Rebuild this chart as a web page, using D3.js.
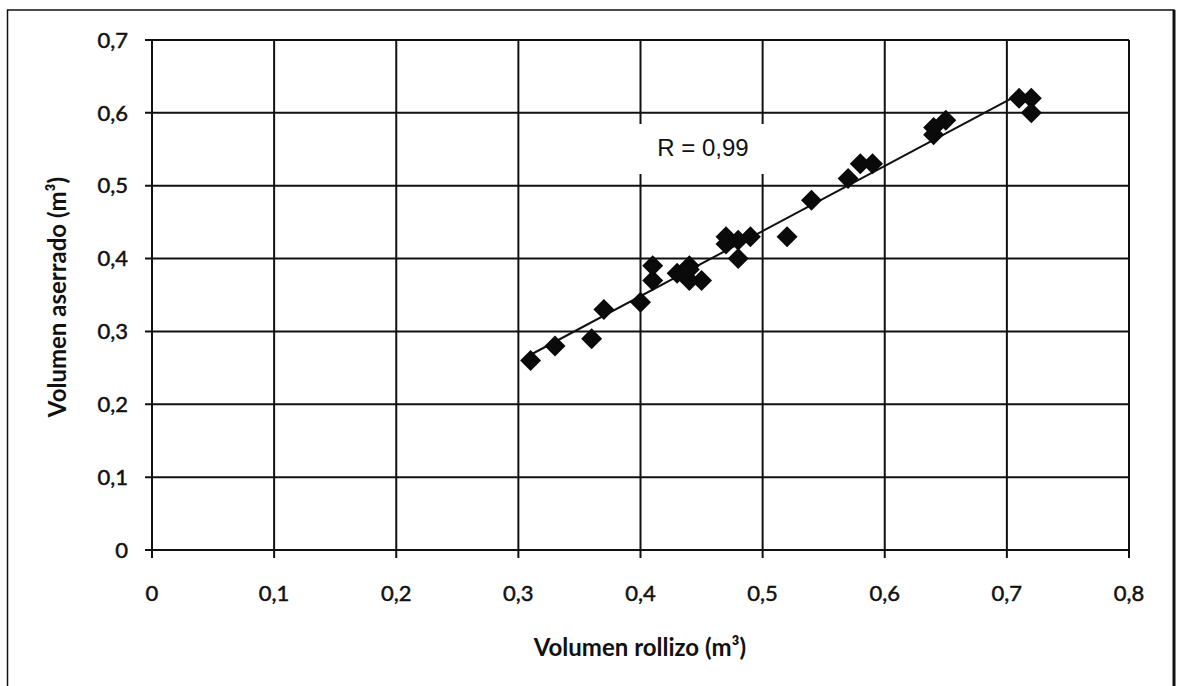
<!DOCTYPE html>
<html>
<head>
<meta charset="utf-8">
<script src="https://cdn.jsdelivr.net/npm/d3@7"></script>
<style>
  body { margin: 0; background: #fff; }
  svg { display: block; }
</style>
</head>
<body>
<svg width="1177" height="686"></svg>
<script>
  // Volumen rollizo (x) vs volumen aserrado (y)
  const rollizo = [0.31, 0.33, 0.36, 0.37, 0.40, 0.41, 0.41, 0.43, 0.435, 0.44, 0.44, 0.44, 0.45,
                   0.47, 0.47, 0.48, 0.48, 0.49, 0.52, 0.54, 0.57, 0.58, 0.59, 0.64, 0.64, 0.65,
                   0.71, 0.72, 0.72];
  const aserrado = [0.26, 0.28, 0.29, 0.33, 0.34, 0.37, 0.39, 0.38, 0.38, 0.39, 0.37, 0.385, 0.37,
                    0.43, 0.42, 0.40, 0.425, 0.43, 0.43, 0.48, 0.51, 0.53, 0.53, 0.57, 0.58, 0.59,
                    0.62, 0.62, 0.60];
  // trend line ends
  const trendX = [0.31, 0.705];
  const trendY = [0.268, 0.621];

  const xTicks = [0, 0.1, 0.2, 0.3, 0.4, 0.5, 0.6, 0.7, 0.8];
  const yTicks = [0, 0.1, 0.2, 0.3, 0.4, 0.5, 0.6, 0.7];
  const rLabel = 'R = 0,99';

  const svg = d3.select('svg');

  // outer frame
  svg.append('path')
    .attr('d', 'M7.5,700 L7.5,10 L1174,10 L1174,700')
    .attr('fill', 'none')
    .attr('stroke', '#111')
    .attr('stroke-width', 1.5);
  svg.append('line')
    .attr('x1', 1174).attr('x2', 1174).attr('y1', 10).attr('y2', 700)
    .attr('stroke', '#111').attr('stroke-width', 3);

  const x = d3.scaleLinear().domain([0, 0.8]).range([152, 1129]);
  const y = d3.scaleLinear().domain([0, 0.7]).range([550, 40]);

  const fmt = d => d === 0 ? '0' : d3.format('.1f')(d).replace('.', ',');

  // grid
  const grid = svg.append('g').attr('stroke', '#111').attr('stroke-width', 2);
  grid.selectAll('.vg').data(xTicks).enter().append('line')
    .attr('x1', d => x(d)).attr('x2', d => x(d))
    .attr('y1', y(0.7)).attr('y2', y(0) + 8);
  grid.selectAll('.hg').data(yTicks).enter().append('line')
    .attr('x1', x(0) - 7).attr('x2', x(0.8))
    .attr('y1', d => y(d)).attr('y2', d => y(d));

  // tick labels
  svg.append('g').selectAll('text').data(yTicks).enter().append('text')
    .attr('x', 128).attr('y', d => y(d))
    .attr('dy', '0.35em')
    .attr('text-anchor', 'end')
    .attr('font-family', 'Lato, sans-serif')
    .attr('font-size', 22)
    .attr('fill', '#111')
    .attr('stroke', '#111').attr('stroke-width', 0.5)
    .text(fmt);

  svg.append('g').selectAll('text').data(xTicks).enter().append('text')
    .attr('x', d => x(d)).attr('y', 593)
    .attr('dy', '0.35em')
    .attr('text-anchor', 'middle')
    .attr('font-family', 'Lato, sans-serif')
    .attr('font-size', 22)
    .attr('fill', '#111')
    .attr('stroke', '#111').attr('stroke-width', 0.5)
    .text(fmt);

  // axis titles
  svg.append('text')
    .attr('x', 640).attr('y', 648).attr('dy', '0.35em')
    .attr('text-anchor', 'middle')
    .attr('font-family', 'Lato, sans-serif')
    .attr('font-weight', 'bold')
    .attr('font-size', 24)
    .attr('fill', '#111')
    .text('Volumen rollizo (m³)');

  svg.append('text')
    .attr('transform', 'translate(58,297) rotate(-90)')
    .attr('dy', '0.35em')
    .attr('text-anchor', 'middle')
    .attr('font-family', 'Lato, sans-serif')
    .attr('font-weight', 'bold')
    .attr('font-size', 24)
    .attr('fill', '#111')
    .text('Volumen aserrado (m³)');

  // R label with white box over the grid
  svg.append('rect')
    .attr('x', 639).attr('y', 124).attr('width', 127).attr('height', 50)
    .attr('fill', '#fff');
  svg.append('text')
    .attr('x', 703).attr('y', 148).attr('dy', '0.35em')
    .attr('text-anchor', 'middle')
    .attr('font-family', 'Liberation Sans, Arial, sans-serif')
    .attr('font-size', 24)
    .attr('fill', '#111')
    .text(rLabel);

  // trend line
  svg.append('line')
    .attr('x1', x(trendX[0])).attr('y1', y(trendY[0]))
    .attr('x2', x(trendX[1])).attr('y2', y(trendY[1]))
    .attr('stroke', '#111').attr('stroke-width', 2);

  // points
  const diamond = d3.symbol().type(d3.symbolSquare).size(220);
  svg.append('g').selectAll('path').data(rollizo).enter().append('path')
    .attr('d', diamond)
    .attr('transform', (d, i) => `translate(${x(d)},${y(aserrado[i])}) rotate(45)`)
    .attr('fill', '#0a0a0a');
</script>
</body>
</html>
